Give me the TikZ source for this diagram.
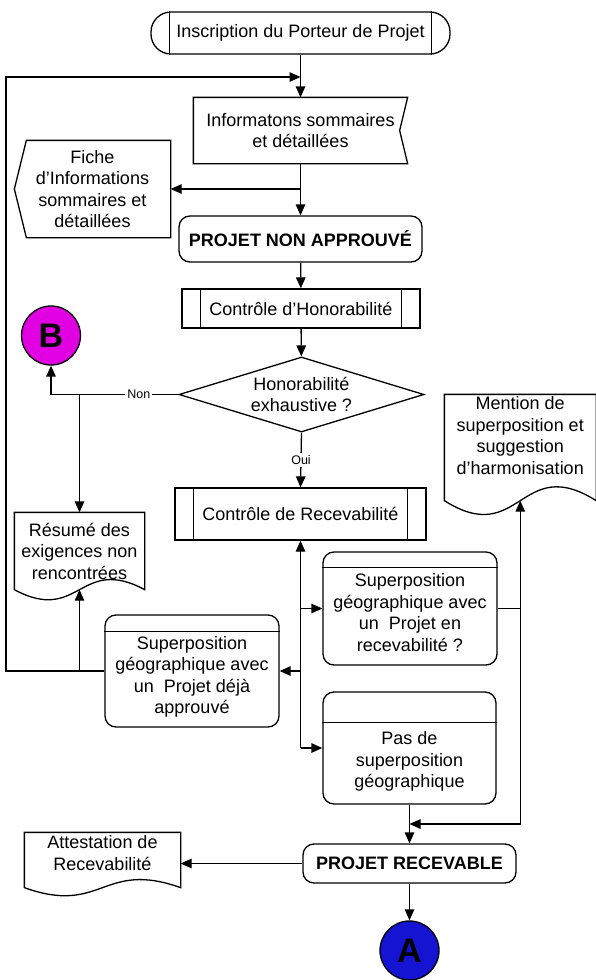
\documentclass[tikz,border=0pt]{standalone}
\usepackage{fontspec}
\setmainfont{Liberation Sans}
\usepackage{tikz}
\usetikzlibrary{shapes.geometric,arrows.meta,calc,positioning}

\definecolor{bmagenta}{RGB}{225,0,225}
\definecolor{ablue}{RGB}{20,20,210}

\newcommand{\shifted}[2]{\raisebox{#1}[\height][\depth]{\begin{tabular}{@{}c@{}}#2\end{tabular}}}
\newcommand{\docwave}[2]{\draw (#1.north west) -- (#1.north east) -- (#1.south east)
  .. controls ($(#1.south)+(0,-#2)$) and ($(#1.south)+(0,#2)$) .. (#1.south west) -- cycle;}

\begin{document}
\begin{tikzpicture}[x=1pt, y=-1pt, line width=1.3pt, >={Triangle[length=11pt,width=9.5pt]},
  font=\fontsize{18}{21.5}\selectfont,
  flowbox/.style={draw, align=center, inner sep=0pt},
  termbox/.style={flowbox, rounded corners=20pt},
  roundbox/.style={flowbox, rounded corners=11pt},
  shapebox/.style={align=center, inner sep=0pt},
  decision/.style={flowbox, shape=diamond, aspect=3.27},
  connector/.style={circle, draw, inner sep=0pt, minimum size=59pt, font=\fontsize{34}{34}\selectfont\bfseries},
  boldtext/.style={font=\fontsize{18}{21.5}\selectfont\bfseries},
  edgelabel/.style={fill=white, inner sep=2pt, font=\fontsize{12.5}{14}\selectfont}]
\useasboundingbox (0,0) rectangle (596,980);

% Noeuds
\node[termbox, minimum width=299pt, minimum height=42pt] (start) at (300.5,33) {Inscription du Porteur de Projet};
\draw ([xshift=19pt]start.north west) -- ([xshift=19pt]start.south west);
\draw ([xshift=-19pt]start.north east) -- ([xshift=-19pt]start.south east);

\node[shapebox, minimum width=213pt, minimum height=65pt] (info) at (300.5,130.5) {Informatons sommaires\\et détaillées};
\draw (info.north west) -- (info.north east) -- ([xshift=-8pt]info.east) -- (info.south east) -- (info.south west) -- cycle;

\node[shapebox, minimum width=155pt, minimum height=96pt] (fiche) at (92.5,189) {Fiche\\d’Informations\\sommaires et\\détaillées};
\draw (fiche.north east) -- ([xshift=12pt]fiche.north west) -- (fiche.west) -- ([xshift=12pt]fiche.south west) -- (fiche.south east) -- cycle;

\node[roundbox, boldtext, minimum width=243pt, minimum height=46pt] (pna) at (300.5,239) {PROJET NON APPROUVÉ};

\node[flowbox, minimum width=238pt, minimum height=39pt] (honor) at (301,308.5) {Contrôle d’Honorabilité};
\draw ([xshift=19pt]honor.north west) -- ([xshift=19pt]honor.south west);
\draw ([xshift=-19pt]honor.north east) -- ([xshift=-19pt]honor.south east);

\node[decision, minimum width=245pt, minimum height=75pt] (dia) at (301.5,394.5) {Honorabilité\\exhaustive ?};

\node[connector, fill=bmagenta] (B) at (51,335.5) {B};

\node[shapebox, minimum width=129pt, minimum height=76pt] (resume) at (79.5,551) {Résumé des\\exigences non\\rencontrées};
\docwave{resume}{35}

\node[flowbox, minimum width=251pt, minimum height=52pt] (rec) at (300.5,514) {Contrôle de Recevabilité};
\draw ([xshift=19pt]rec.north west) -- ([xshift=19pt]rec.south west);
\draw ([xshift=-19pt]rec.north east) -- ([xshift=-19pt]rec.south east);

\node[shapebox, minimum width=150.5pt, minimum height=105pt] (mention) at (520.25,447.5) {\shifted{10pt}{Mention de\\superposition et\\suggestion\\d’harmonisation}};
\docwave{mention}{48}

\node[roundbox, minimum width=174pt, minimum height=113pt] (suprec) at (410,608.5) {\shifted{-6pt}{Superposition\\géographique avec\\un~ Projet en\\recevabilité ?}};
\draw ([yshift=-16pt]suprec.north west) -- ([yshift=-16pt]suprec.north east);

\node[roundbox, minimum width=174pt, minimum height=112pt] (supapp) at (192,671) {\shifted{-6pt}{Superposition\\géographique avec\\un~ Projet déjà\\approuvé}};
\draw ([yshift=-17pt]supapp.north west) -- ([yshift=-17pt]supapp.north east);

\node[roundbox, minimum width=173pt, minimum height=112pt] (pas) at (409.5,748) {\shifted{-14pt}{Pas de\\superposition\\géographique}};
\draw ([yshift=-31pt]pas.north west) -- ([yshift=-31pt]pas.north east);

\node[roundbox, boldtext, minimum width=213pt, minimum height=39pt] (pr) at (409.5,863.5) {PROJET RECEVABLE};

\node[shapebox, minimum width=155pt, minimum height=54pt] (attest) at (102.5,860) {\shifted{5pt}{Attestation de\\Recevabilité}};
\docwave{attest}{28}

\node[connector, fill=ablue] (A) at (409.5,950.5) {A};

\coordinate (fb) at (6,77);

% Liaisons
\draw[->] (start) -- (info);
\draw[->] (info) -- (pna);
\draw[->] (info.south |- fiche.east) -- (fiche.east);
\draw[->] (pna) -- (honor);
\draw[->] (honor) -- (dia);
\draw[->] (dia.west) -- node[edgelabel, pos=0.31] {Non} (dia.west -| B.south) -- (B.south);
\draw[->] (dia.west -| resume.north) -- (resume.north);
\draw[->] (dia.south) -- node[edgelabel] {Oui} (rec.north);
\draw[->] (pas.west -| rec.south) -- (rec.south);
\draw[->] (suprec.west -| rec.south) -- (suprec.west);
\draw[->] (supapp.east -| rec.south) -- (supapp.east);
\draw[->] (pas.west -| rec.south) -- (pas.west);
\draw[->] (suprec.east) -| (mention.south);
\draw[->] (suprec.east -| mention.south) |- ($(pas.south)!.5!(pr.north)$);
\draw[->] (pas) -- (pr);
\draw[->] (pr.west) -- (pr.west -| attest.east);
\draw[->] (pr) -- (A);
\draw[->] (supapp.west) -| (fb) -- (fb -| start.south);
\draw[->] (supapp.west -| resume.south) -- (resume.south);
\end{tikzpicture}
\end{document}
